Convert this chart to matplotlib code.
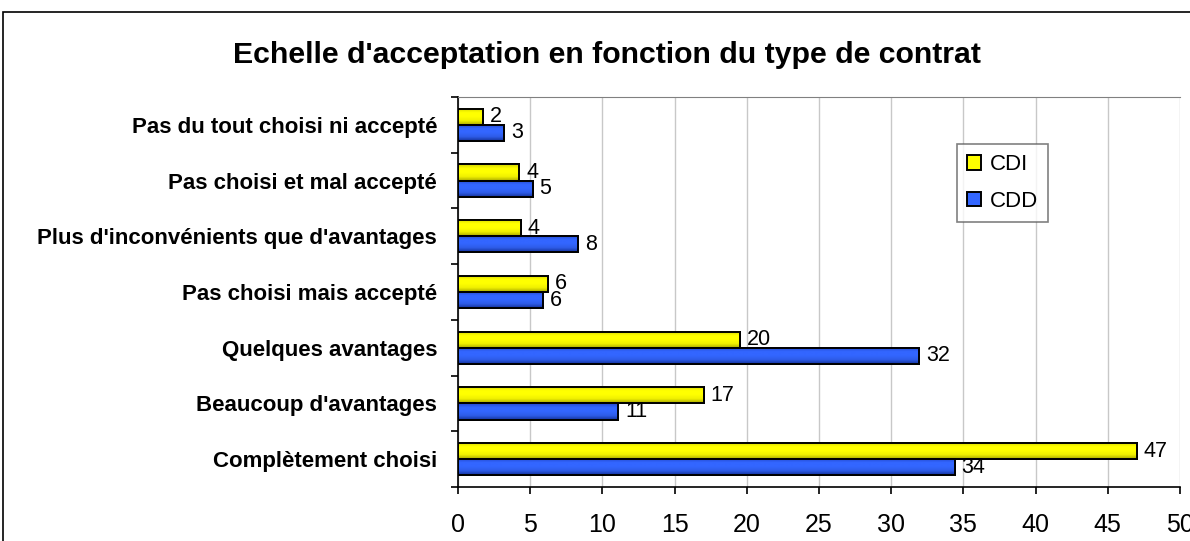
import matplotlib.pyplot as plt
import matplotlib.patches as mpatches
from matplotlib.colors import LinearSegmentedColormap
import numpy as np

plt.rcParams['font.family'] = ['Liberation Sans', 'DejaVu Sans']

# categories from bottom to top
categories = ["Complètement choisi", "Beaucoup d'avantages", "Quelques avantages",
              "Pas choisi mais accepté", "Plus d'inconvénients que d'avantages",
              "Pas choisi et mal accepté", "Pas du tout choisi ni accepté"]
cdi = [47.0, 17.0, 19.5, 6.2, 4.35, 4.23, 1.72]
cdd = [34.4, 11.1, 31.95, 5.9, 8.32, 5.16, 3.17]
cdi_labels = ["47", "17", "20", "6", "4", "4", "2"]
cdd_labels = ["34", "11", "32", "6", "8", "5", "3"]

fig = plt.figure(figsize=(11.9, 5.41), dpi=100)
# outer chart border
fig.patches.append(mpatches.Rectangle((0.0025, -0.05), 1.1, 1.028, transform=fig.transFigure,
                                      fill=False, edgecolor='black', linewidth=1.2))
ax = fig.add_axes([0.3849, 0.0998, 0.6067, 0.7209])

y = np.arange(len(categories))
h = 0.29
b1 = ax.barh(y + h / 2, cdi, height=h, color='#FFFF00', edgecolor='black', linewidth=1.4,
             label='CDI', zorder=3)
b2 = ax.barh(y - h / 2, cdd, height=h, color='#3366FF', edgecolor='black', linewidth=1.4,
             label='CDD', zorder=3)

ax.set_xlim(0, 50)
ax.set_ylim(-0.5, len(categories) - 0.5)

# soft shading across each bar, like the original spreadsheet look
shade_y = LinearSegmentedColormap.from_list('sy', ['#A8A800', '#F0F000', '#FFFF00', '#FFFF00', '#D0D000'])
shade_b = LinearSegmentedColormap.from_list('sb', ['#14329A', '#2E5CE8', '#3366FF', '#3366FF', '#2447C8'])
grad = np.linspace(0, 1, 64).reshape(-1, 1)
for bars, cm in [(b1, shade_y), (b2, shade_b)]:
    for r in bars:
        x0, y0, w, hh = r.get_x(), r.get_y(), r.get_width(), r.get_height()
        ax.imshow(grad, cmap=cm, aspect='auto', origin='lower',
                  extent=(x0, x0 + w, y0, y0 + hh), zorder=3.5, interpolation='bilinear')
        ax.add_patch(mpatches.Rectangle((x0, y0), w, hh, fill=False, edgecolor='black',
                                        linewidth=1.4, zorder=4))
ax.set_xlim(0, 50)
ax.set_ylim(-0.5, len(categories) - 0.5)
ax.set_aspect('auto')

ax.bar_label(b1, labels=cdi_labels, padding=5, fontsize=15.5, zorder=5)
ax.bar_label(b2, labels=cdd_labels, padding=5, fontsize=15.5, zorder=5)

ax.set_xticks(np.arange(0, 51, 5))
ax.set_yticks(y)
ax.set_yticklabels(categories, fontweight='bold', fontsize=16)
ax.set_yticks(np.arange(-0.5, len(categories), 1), minor=True)
ax.tick_params(axis='y', which='major', length=0, pad=15)
ax.tick_params(axis='y', which='minor', length=5, width=1.2, direction='out')
ax.tick_params(axis='x', length=5, width=1.2, direction='out', labelsize=18, pad=13.5)
ax.grid(axis='x', color='#C8C8C8', linewidth=1, zorder=0)

ax.spines['top'].set_color('#808080')
ax.spines['right'].set_visible(False)
for s in ['left', 'bottom']:
    ax.spines[s].set_linewidth(1.2)

fig.text(0.51, 0.898, "Echelle d'acceptation en fonction du type de contrat",
         fontsize=21.8, fontweight='bold', ha='center', va='center')

leg = ax.legend(loc='upper left', bbox_to_anchor=(0.691, 0.879), fontsize=16, frameon=True,
                fancybox=False, edgecolor='#606060', handlelength=0.65, handleheight=0.65,
                labelspacing=0.7, borderpad=0.45, handletextpad=0.4, borderaxespad=0)
leg.get_frame().set_linewidth(1.2)

fig.savefig('out.png', dpi=100)
